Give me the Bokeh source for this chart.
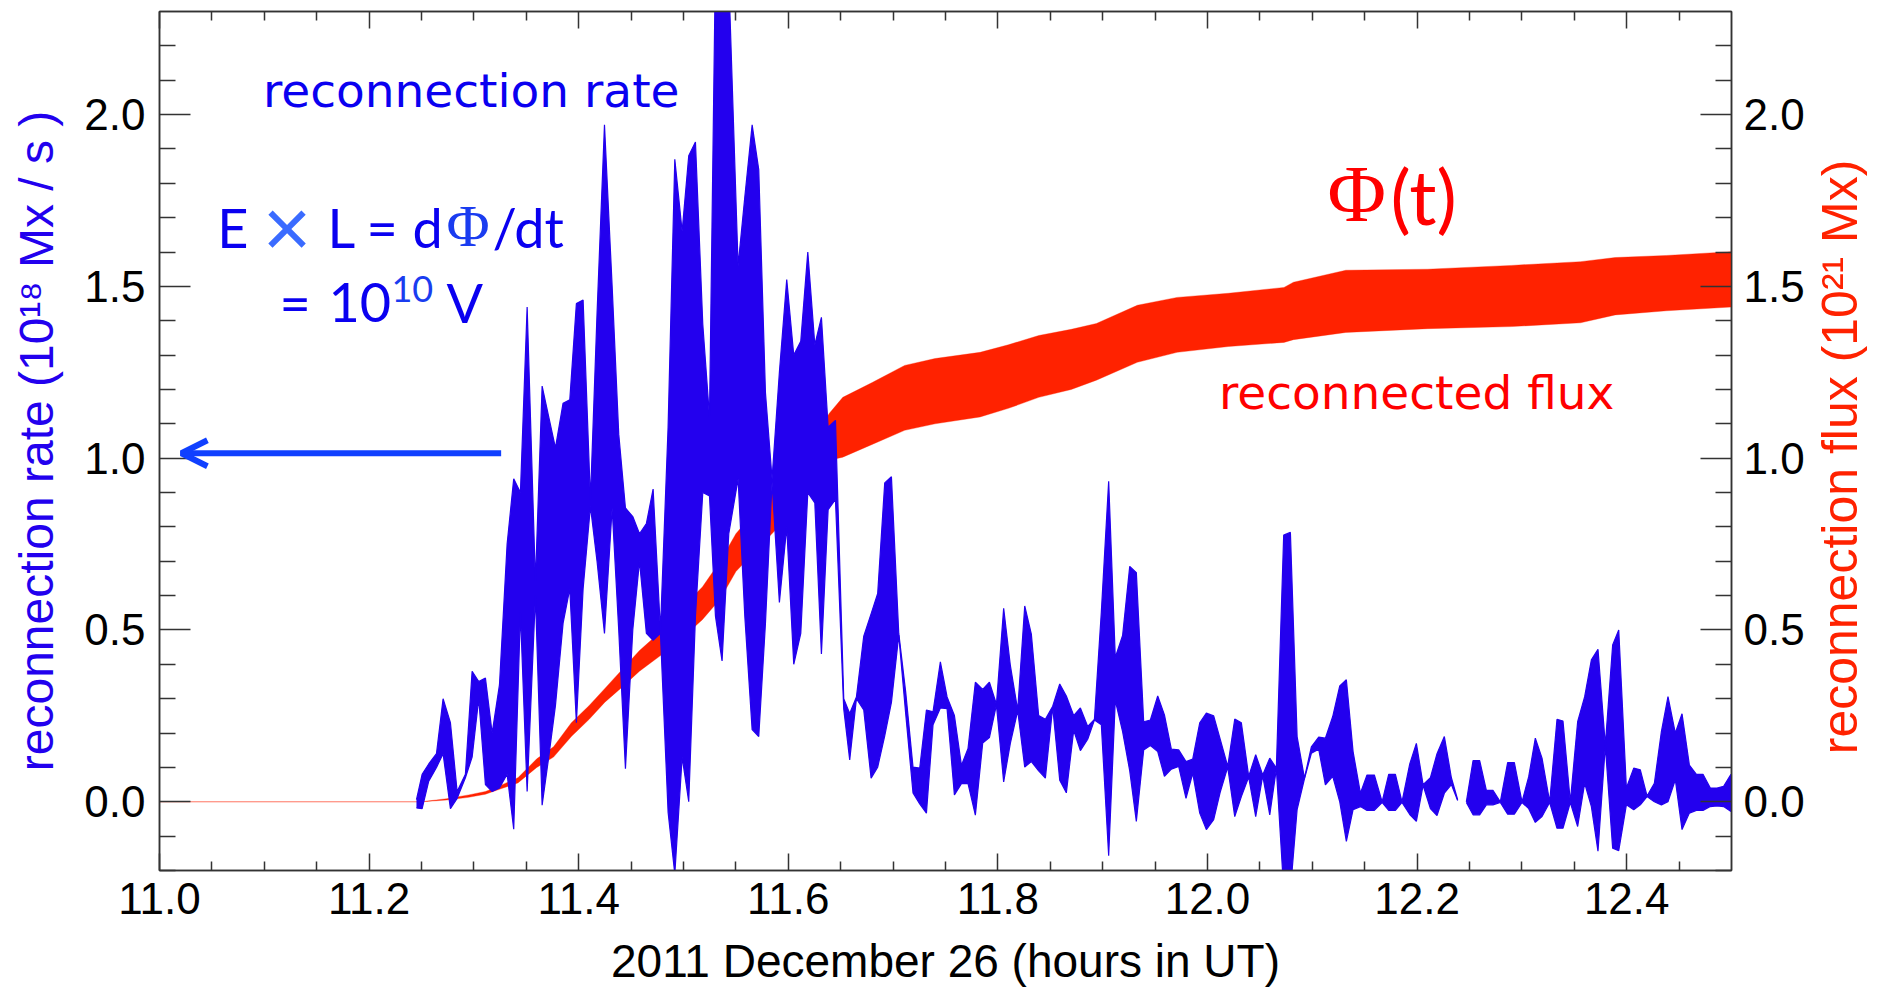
import math
import numpy as np
from bokeh.plotting import figure
from bokeh.layouts import row
from bokeh.models import (Range1d, LinearAxis, FixedTicker, PrintfTickFormatter,
                          CustomJSTickFormatter, ColumnDataSource, Label, Arrow, OpenHead)
from bokeh.embed import file_html
from bokeh.resources import INLINE

# ---------------- data ----------------
x_ticks = [11.0, 11.2, 11.4, 11.6, 11.8, 12.0, 12.2, 12.4]
x_minor = [11.05, 11.1, 11.15, 11.25, 11.3, 11.35, 11.45, 11.5, 11.55, 11.65, 11.7, 11.75,
           11.85, 11.9, 11.95, 12.05, 12.1, 12.15, 12.25, 12.3, 12.35, 12.45]
y_ticks = [0.0, 0.5, 1.0, 1.5, 2.0]
y_minor = [-0.2, -0.1, 0.1, 0.2, 0.3, 0.4, 0.6, 0.7, 0.8, 0.9, 1.1, 1.2, 1.3, 1.4,
           1.6, 1.7, 1.8, 1.9, 2.1, 2.2]

# reconnection rate (10^18 Mx/s): upper and lower estimates (NaN = data gap)
rate_time = [
    11.2452, 11.2506, 11.2569, 11.2643, 11.2706, 11.2776, 11.2840, 11.2919, 11.2983, 11.3046,
    11.3110, 11.3174, 11.3244, 11.3317, 11.3380, 11.3444, 11.3508, 11.3587, 11.3651, 11.3714,
    11.3778, 11.3851, 11.3915, 11.3978, 11.4042, 11.4112, 11.4175, 11.4246, 11.4319, 11.4382,
    11.4446, 11.4516, 11.4580, 11.4646, 11.4710, 11.4780, 11.4853, 11.4917, 11.4987, 11.5050,
    11.5114, 11.5184, 11.5248, 11.5305, 11.5368, 11.5432, 11.5521, 11.5585, 11.5655, 11.5718,
    11.5782, 11.5845, 11.5915, 11.5985, 11.6052, 11.6119, 11.6186, 11.6253, 11.6316, 11.6380,
    11.6450, 11.6529, 11.6586, 11.6650, 11.6720, 11.6790, 11.6853, 11.6920, 11.6984, 11.7054,
    11.7120, 11.7190, 11.7254, 11.7318, 11.7381, 11.7451, 11.7515, 11.7585, 11.7652, 11.7715,
    11.7785, 11.7855, 11.7919, 11.7986, 11.8055, 11.8119, 11.8189, 11.8256, 11.8319, 11.8389,
    11.8453, 11.8523, 11.8590, 11.8653, 11.8723, 11.8787, 11.8857, 11.8921, 11.8987, 11.9057,
    11.9120, 11.9190, 11.9258, 11.9321, 11.9391, 11.9455, 11.9525, 11.9589, 11.9655, 11.9725,
    11.9795, 11.9859, 11.9926, 11.9989, 12.0059, 12.0123, 12.0193, 12.0260, 12.0323, 12.0393,
    12.0460, 12.0527, 12.0594, 12.0657, 12.0727, 12.0791, 12.0855, 12.0925, 12.0991, 12.1061,
    12.1125, 12.1195, 12.1262, 12.1325, 12.1389, 12.1459, 12.1522, 12.1592, 12.1666, 12.1729,
    12.1793, 12.1856, 12.1930, 12.1993, 12.2057, 12.2127, 12.2190, 12.2260, 12.2327, 12.2387,
    12.2430, 12.2470, 12.2534, 12.2597, 12.2661, 12.2724, 12.2794, 12.2864, 12.2928, 12.3001,
    12.3065, 12.3128, 12.3192, 12.3265, 12.3335, 12.3392, 12.3462, 12.3532, 12.3599, 12.3663,
    12.3726, 12.3796, 12.3866, 12.3924, 12.3997, 12.4067, 12.4130, 12.4194, 12.4264, 12.4331,
    12.4394, 12.4464, 12.4528, 12.4598, 12.4665, 12.4728, 12.4798, 12.4862, 12.4925, 12.4995]
rate_upper = [
    0.006, 0.08, 0.11, 0.14, 0.30, 0.23, 0.03, 0.08, 0.38, 0.35,
    0.36, 0.20, 0.34, 0.75, 0.94, 0.90, 1.44, 0.64, 1.21, 1.12,
    1.03, 1.16, 1.17, 1.45, 1.46, 0.88, 1.42, 1.97, 1.50, 1.07,
    0.855, 0.83, 0.78, 0.81, 0.91, 0.50, 1.09, 1.87, 1.66, 1.88,
    1.92, 1.39, 1.12, 2.45, 2.60, 2.40, 1.56, 1.76, 1.97, 1.84,
    1.19, 0.94, 1.25, 1.52, 1.30, 1.34, 1.60, 1.33, 1.41, 1.09,
    1.11, 0.30, 0.257, 0.305, 0.482, 0.547, 0.606, 0.928, 0.946, 0.49,
    0.32, 0.101, 0.098, 0.267, 0.262, 0.407, 0.305, 0.251, 0.106, 0.155,
    0.348, 0.327, 0.348, 0.284, 0.563, 0.396, 0.267, 0.57, 0.488, 0.251,
    0.24, 0.278, 0.343, 0.308, 0.251, 0.273, 0.219, 0.24, 0.552, 0.933,
    0.42, 0.484, 0.685, 0.667, 0.233, 0.238, 0.308, 0.253, 0.153, 0.151,
    0.117, 0.124, 0.23, 0.258, 0.25, 0.18, 0.103, 0.241, 0.23, 0.074,
    0.137, 0.078, 0.127, 0.098, 0.776, 0.784, 0.19, 0.069, 0.16, 0.188,
    0.185, 0.248, 0.337, 0.355, 0.146, 0.025, 0.078, 0.078, 0.0, 0.08,
    0.08, 0.0, 0.11, 0.17, 0.05, 0.07, 0.14, 0.19, 0.07, 0.006,
    float("nan"), 0.0, 0.12, 0.12, 0.033, 0.033, 0.0, 0.114, 0.114, 0.0,
    0.073, 0.185, 0.127, 0.0, 0.24, 0.235, 0.0, 0.233, 0.306, 0.413,
    0.444, 0.165, 0.456, 0.5, 0.04, 0.098, 0.093, 0.017, 0.054, 0.204,
    0.306, 0.2, 0.256, 0.107, 0.08, 0.08, 0.04, 0.04, 0.045, 0.08]
rate_lower = [
    -0.018, -0.02, 0.06, 0.10, 0.14, -0.02, 0.01, 0.07, 0.13, 0.30,
    0.05, 0.03, 0.04, 0.08, -0.08, 0.55, 0.03, 0.60, -0.01, 0.13,
    0.28, 0.52, 0.62, 0.23, 0.62, 0.86, 0.70, 0.49, 0.855, 0.50,
    0.096, 0.50, 0.70, 0.49, 0.47, 0.49, -0.03, -0.21, 0.13, 0.00,
    0.54, 0.90, 0.89, 0.54, 0.41, 0.78, 0.94, 0.54, 0.21, 0.19,
    0.52, 0.93, 0.58, 0.80, 0.40, 0.49, 0.90, 0.87, 0.43, 0.85,
    0.88, 0.27, 0.122, 0.30, 0.267, 0.069, 0.101, 0.192, 0.289, 0.485,
    0.257, 0.026, -0.006, -0.033, 0.224, 0.273, 0.271, 0.02, 0.053, 0.053,
    -0.039, 0.171, 0.187, 0.282, 0.058, 0.171, 0.265, 0.101, 0.117, 0.09,
    0.069, 0.276, 0.063, 0.026, 0.208, 0.149, 0.182, 0.238, 0.224, -0.157,
    0.295, 0.204, 0.09, -0.057, 0.151, 0.164, 0.146, 0.074, 0.095, 0.103,
    0.01, 0.083, -0.033, -0.081, -0.052, 0.03, 0.101, -0.043, 0.015, 0.072,
    -0.043, 0.076, -0.038, 0.096, -0.256, -0.26, -0.023, 0.067, 0.141, 0.153,
    0.049, 0.074, 0.0, -0.115, -0.023, -0.014, -0.025, -0.025, -0.002, -0.025,
    -0.025, -0.002, -0.037, -0.057, 0.048, -0.02, -0.04, 0.025, 0.05, 0.004,
    float("nan"), -0.002, -0.038, -0.038, -0.009, -0.009, -0.002, -0.036, -0.036, -0.002,
    -0.02, -0.06, -0.043, -0.002, -0.077, -0.077, -0.002, -0.072, 0.054, -0.014,
    -0.144, 0.163, -0.135, -0.142, -0.009, -0.023, -0.009, 0.015, 0.0, -0.009,
    0.0, 0.064, -0.081, -0.033, -0.025, -0.025, -0.014, -0.012, -0.014, -0.028]

# reconnected flux (10^21 Mx): upper and lower bounds
flux_time = [11.0, 11.25, 11.274, 11.295, 11.311, 11.325, 11.342, 11.36, 11.376, 11.393,
             11.41, 11.425, 11.44, 11.458, 11.48, 11.50, 11.518, 11.535, 11.55, 11.575,
             11.60, 11.62, 11.639, 11.652, 11.68, 11.711, 11.74, 11.783, 11.81, 11.839,
             11.87, 11.894, 11.933, 11.971, 12.02, 12.073, 12.082, 12.132, 12.21, 12.29,
             12.356, 12.389, 12.438, 12.5]
flux_upper = [0.0, 0.0, 0.009, 0.02, 0.03, 0.047, 0.07, 0.125, 0.16, 0.23,
              0.28, 0.33, 0.38, 0.44, 0.50, 0.57, 0.625, 0.70, 0.78, 0.87,
              0.95, 1.03, 1.13, 1.177, 1.22, 1.27, 1.29, 1.308, 1.33, 1.357,
              1.375, 1.392, 1.445, 1.468, 1.48, 1.497, 1.512, 1.547, 1.55, 1.561,
              1.572, 1.584, 1.59, 1.601]
flux_lower = [0.0, 0.0, 0.005, 0.013, 0.022, 0.037, 0.055, 0.10, 0.13, 0.19,
              0.24, 0.29, 0.33, 0.38, 0.43, 0.48, 0.53, 0.59, 0.67, 0.75,
              0.83, 0.90, 0.994, 1.003, 1.04, 1.081, 1.10, 1.12, 1.145, 1.177,
              1.20, 1.227, 1.279, 1.308, 1.325, 1.337, 1.345, 1.366, 1.377, 1.383,
              1.394, 1.417, 1.429, 1.44]

# ---------------- styling ----------------
BLUE = "#2300EE"
RED = "#FF2200"
AX = "#333333"
MAIN_W = 1806
SIDE_W = 71
H = 987

p = figure(frame_width=1572, frame_height=859,
           x_range=Range1d(11.0, 12.5), y_range=Range1d(-0.2, 2.3),
           x_axis_location=None, y_axis_location=None,
           output_backend="svg", toolbar_location=None, title=None,
           min_border_left=159, min_border_right=MAIN_W - 159 - 1572,
           min_border_top=11, min_border_bottom=117)
p.extra_y_ranges = {"flux": Range1d(-0.2, 2.3)}
p.xgrid.visible = False
p.ygrid.visible = False
p.outline_line_color = AX
p.outline_line_width = 1.5
p.background_fill_color = "white"
p.border_fill_color = "white"

xt = FixedTicker(ticks=x_ticks, minor_ticks=x_minor)
yt = FixedTicker(ticks=y_ticks, minor_ticks=y_minor)


def style_axis(ax, tick_in, minor_in, standoff):
    ax.major_tick_in = tick_in
    ax.major_tick_out = 0
    ax.minor_tick_in = minor_in
    ax.minor_tick_out = 0
    ax.axis_line_color = AX
    ax.axis_line_width = 1.5
    ax.major_tick_line_color = AX
    ax.major_tick_line_width = 1.5
    ax.minor_tick_line_color = AX
    ax.minor_tick_line_width = 1.5
    ax.major_label_text_font = "Liberation Sans"
    ax.major_label_text_font_size = "44px"
    ax.major_label_text_color = "black"
    ax.major_label_standoff = standoff
    ax.axis_label_text_font = "Liberation Sans"
    ax.axis_label_text_font_style = "normal"


fmt = PrintfTickFormatter(format="%.1f")
blank = CustomJSTickFormatter(code="return ''")

bottom = LinearAxis(ticker=xt, formatter=fmt)
style_axis(bottom, 17, 9, 12)
bottom.axis_label = "2011 December 26 (hours in UT)"
bottom.axis_label_text_font_size = "46px"
bottom.axis_label_text_color = "black"
bottom.axis_label_standoff = 18
p.add_layout(bottom, "below")

top = LinearAxis(ticker=xt, formatter=blank)
style_axis(top, 17, 9, 0)
top.major_label_text_font_size = "1px"
p.add_layout(top, "above")

left = LinearAxis(ticker=yt, formatter=fmt)
style_axis(left, 31, 16, 14)
left.axis_label = "reconnection rate (10¹⁸ Mx / s )"
left.axis_label_text_font_size = "48px"
left.axis_label_text_color = "#2200EE"
left.axis_label_standoff = 18
p.add_layout(left, "left")

right = LinearAxis(ticker=yt, formatter=fmt, y_range_name="flux")
style_axis(right, 31, 16, 12)
p.add_layout(right, "right")

# ---------------- data glyphs ----------------
fsrc = ColumnDataSource(dict(t=flux_time, hi=flux_upper, lo=flux_lower))
p.varea(x="t", y1="lo", y2="hi", source=fsrc, fill_color=RED, y_range_name="flux")
p.line(x="t", y="hi", source=fsrc, line_color=RED, line_width=1, line_alpha=0.35, y_range_name="flux")
p.line(x="t", y="lo", source=fsrc, line_color=RED, line_width=1, line_alpha=0.35, y_range_name="flux")

t = np.array(rate_time)
hi = np.array(rate_upper)
lo = np.array(rate_lower)
breaks = list(np.where(np.isnan(hi))[0]) + [len(t)]
start = 0
for b in breaks:
    if b > start:
        src = ColumnDataSource(dict(t=t[start:b], hi=hi[start:b], lo=lo[start:b]))
        p.varea(x="t", y1="lo", y2="hi", source=src, fill_color=BLUE)
        p.line(x="t", y="hi", source=src, line_color=BLUE, line_width=1.2)
        p.line(x="t", y="lo", source=src, line_color=BLUE, line_width=1.2)
    start = b + 1

# ---------------- annotations ----------------
def txt(fig, x, y, text, size, color, font="Lato", align="left", angle=0.0):
    fig.add_layout(Label(x=x, y=y, text=text, text_font=font, text_font_size=size,
                         text_color=color, text_align=align, text_baseline="middle",
                         angle=angle))


TXT_BLUE = "#0A00F0"
LIGHT_BLUE = "#3A6BFF"

txt(p, 11.0987, 2.071, "reconnection rate", "47px", TXT_BLUE, font="DejaVu Sans")
txt(p, 12.0109, 1.190, "reconnected flux", "47px", "#FF0000", font="DejaVu Sans")

# E x L = dPhi/dt
txt(p, 11.055, 1.671, "E", "54px", TXT_BLUE)
txt(p, 11.1216, 1.669, "×", "84px", LIGHT_BLUE, font="Liberation Sans", align="center")
txt(p, 11.1602, 1.671, "L", "54px", TXT_BLUE)
txt(p, 11.1974, 1.671, "=", "54px", TXT_BLUE)
txt(p, 11.2413, 1.671, "d", "54px", TXT_BLUE)
txt(p, 11.2738, 1.677, "Φ", "59px", "#1A3CF0", font="Liberation Serif")
txt(p, 11.3177, 1.671, "/dt", "54px", TXT_BLUE)
# = 10^10 V
txt(p, 11.1144, 1.4535, "=", "54px", TXT_BLUE)
txt(p, 11.1612, 1.4535, "10", "54px", TXT_BLUE)
txt(p, 11.2213, 1.492, "10", "36px", "#1A3CF0")
txt(p, 11.2738, 1.4535, "V", "54px", TXT_BLUE)

# Phi(t)
txt(p, 12.1144, 1.769, "Φ", "80px", "#FF0000", font="Liberation Serif")
txt(p, 12.1745, 1.765, "(t)", "76px", "#FF0000")

# arrow pointing to the left axis
p.add_layout(Arrow(end=OpenHead(size=26, line_width=6, line_color="#1040FF"),
                   x_start=11.326, y_start=1.0145, x_end=11.0209, y_end=1.0145,
                   line_width=6, line_color="#1040FF"))

# ---------------- right-hand title strip (reads bottom-to-top) ----------------
side = figure(width=SIDE_W, height=H, x_range=Range1d(0, SIDE_W), y_range=Range1d(0, H),
              x_axis_location=None, y_axis_location=None,
              output_backend="svg", toolbar_location=None, title=None,
              min_border_left=0, min_border_right=0, min_border_top=0, min_border_bottom=0)
side.xgrid.visible = False
side.ygrid.visible = False
side.outline_line_color = None
side.background_fill_color = "white"
side.border_fill_color = "white"
txt(side, 1838 - MAIN_W, H - 513, "reconnection flux (10²¹ Mx)", "50px", RED,
    font="Liberation Sans", align="center", angle=math.pi / 2)

layout = row(p, side, spacing=0)
open("out.html", "w").write(file_html(layout, INLINE))
